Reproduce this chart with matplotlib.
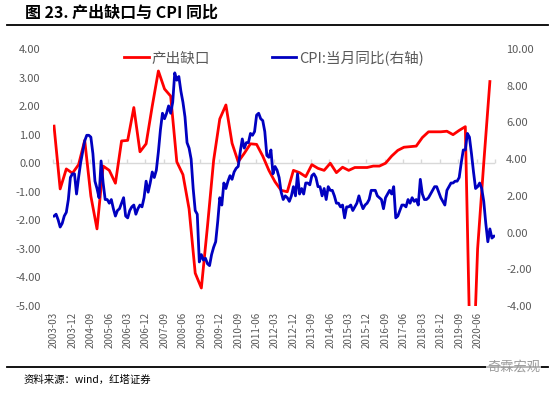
import matplotlib
matplotlib.use('Agg')
import matplotlib.pyplot as plt
from matplotlib.lines import Line2D

plt.rcParams['font.family'] = ['Noto Sans CJK SC', 'DejaVu Sans']

# 月份：2003-03 到 2021-02
start_year, start_month = 2003, 3
n_months = 216
months = []
for i in range(n_months):
    m = start_month - 1 + i
    months.append('%d-%02d' % (start_year + m // 12, m % 12 + 1))

# CPI:当月同比（右轴），月度
cpi = [0.9, 1.0, 0.7, 0.3, 0.5, 0.9, 1.1, 1.8, 3.0, 3.2,
       3.2, 2.1, 3.0, 3.8, 4.4, 5.0, 5.3, 5.3, 5.2, 4.3, 2.8, 2.4,
       1.9, 3.9, 2.7, 1.8, 1.8, 1.6, 1.8, 1.3, 0.9, 1.2, 1.3, 1.6,
       1.9, 0.9, 0.8, 1.2, 1.4, 1.5, 1.0, 1.3, 1.5, 1.4, 1.9, 2.8,
       2.2, 2.7, 3.3, 3.0, 3.4, 4.4, 5.6, 6.5, 6.2, 6.5, 6.9, 6.5,
       7.1, 8.7, 8.3, 8.5, 7.7, 7.1, 6.3, 4.9, 4.6, 4.0, 2.4, 1.2,
       1.0, -1.6, -1.2, -1.5, -1.4, -1.7, -1.8, -1.2, -0.8, -0.5, 0.6, 1.9,
       1.5, 2.7, 2.4, 2.8, 3.1, 2.9, 3.3, 3.5, 3.6, 4.4, 5.1, 4.6,
       4.9, 4.9, 5.4, 5.3, 5.5, 6.4, 6.5, 6.2, 6.1, 5.5, 4.2, 4.1,
       4.5, 3.2, 3.6, 3.4, 3.0, 2.2, 1.8, 2.0, 1.9, 1.7, 2.0, 2.5,
       2.0, 3.2, 2.1, 2.4, 2.1, 2.7, 2.7, 2.6, 3.1, 3.2, 3.0, 2.5,
       2.5, 2.0, 2.4, 1.8, 2.5, 2.3, 2.3, 2.0, 1.6, 1.6, 1.4, 1.5,
       0.8, 1.4, 1.4, 1.5, 1.2, 1.4, 1.6, 2.0, 1.6, 1.3, 1.5, 1.6,
       1.8, 2.3, 2.3, 2.3, 2.0, 1.9, 1.8, 1.3, 1.9, 2.1, 2.3, 2.1,
       2.5, 0.8, 0.9, 1.2, 1.5, 1.5, 1.4, 1.8, 1.6, 1.9, 1.7, 1.8,
       1.5, 2.9, 2.1, 1.8, 1.8, 1.9, 2.1, 2.3, 2.5, 2.5, 2.2, 1.9,
       1.7, 1.5, 2.3, 2.5, 2.7, 2.7, 2.8, 2.8, 3.0, 3.8, 4.5, 4.5,
       5.4, 5.2, 4.3, 3.3, 2.4, 2.5, 2.7, 2.4, 1.7, 0.5, -0.5, 0.2,
       -0.3, -0.2]

# 产出缺口（左轴），季度：2003Q1 到 2020Q4
gap = [1.30, -0.90, -0.20, -0.35, -0.05, 0.80, -1.15, -2.30,
       -0.10, -0.25, -0.70, 0.78, 0.80, 1.95, 0.40, 0.68,
       2.00, 3.23, 2.60, 2.35, 0.05, -0.40, -1.60, -3.85,
       -4.37, -2.20, 0.10, 1.55, 2.04, 0.70, 0.05, 0.35,
       0.68, 0.66, 0.25, -0.25, -0.65, -0.95, -1.00, -0.25,
       -0.33, -0.47, -0.05, -0.18, -0.25, 0.00, -0.33, -0.14,
       -0.25, -0.15, -0.15, -0.15, -0.10, -0.10, 0.00, 0.25,
       0.45, 0.56, 0.58, 0.60, 0.90, 1.10, 1.10, 1.10,
       1.12, 1.00, 1.15, 1.28, -9.00, -3.00, 0.00, 2.86]
gap_x = [3 * i for i in range(len(gap))]

red = '#ff0000'
blue = '#0000c0'
gray = '#595959'

fig = plt.figure(figsize=(5.54, 3.94), dpi=100)
ax = fig.add_axes([53 / 554, 1 - 306 / 394, 442 / 554, 257 / 394])
ax2 = ax.twinx()

ax.plot(gap_x, gap, color=red, lw=2.0, solid_joinstyle='round')
ax2.plot(range(n_months), cpi, color=blue, lw=2.0, solid_joinstyle='round')

ax.set_xlim(-0.5, n_months - 0.5)
ax.set_ylim(-5, 4)
ax2.set_ylim(-4, 10)
ax.set_yticks(range(-5, 5))
ax.set_yticklabels(['%.2f' % v for v in range(-5, 5)])
ax2.set_yticks(range(-4, 11, 2))
ax2.set_yticklabels(['%.2f' % v for v in range(-4, 11, 2)])

tick_pos = list(range(0, n_months, 9))
ax.set_xticks(tick_pos)
ax.set_xticklabels([months[i] for i in tick_pos], rotation=90)

for a in (ax, ax2):
    for s in a.spines.values():
        s.set_visible(False)
ax.tick_params(axis='x', length=0, pad=4, labelsize=7, labelcolor=gray)
ax.tick_params(axis='y', length=0, pad=9, labelsize=8, labelcolor=gray)
ax2.tick_params(axis='y', length=0, pad=8, labelsize=8, labelcolor=gray)

# 0 处的横轴线和刻度
ax.axhline(0, color='#d9d9d9', lw=1.0, zorder=0)
sec = ax.secondary_xaxis(5 / 9)
sec.set_xticks([p - 0.5 for p in tick_pos] + [n_months - 0.5])
sec.set_xticklabels([])
sec.tick_params(axis='x', direction='out', length=3, color='#d9d9d9', width=1)
sec.spines['bottom'].set_visible(False)
sec.spines['top'].set_visible(False)

handles = [Line2D([], [], color=red, lw=2.0),
           Line2D([], [], color=blue, lw=2.0)]
ax2.legend(handles, ['产出缺口', 'CPI:当月同比(右轴)'], loc='upper center',
           bbox_to_anchor=(0.5, 1.045), ncol=2, frameon=False, fontsize=10.5,
           labelcolor=gray, handlelength=1.7, handletextpad=0.2,
           columnspacing=4.2)

fig.text(25 / 554, 1 - 13 / 394, '图 23. 产出缺口与 CPI 同比', fontsize=11.5,
         fontweight='bold', va='center', ha='left')
fig.add_artist(Line2D([7 / 554, 548 / 554], [1 - 25 / 394, 1 - 25 / 394],
                      color='black', lw=1.3))
fig.add_artist(Line2D([7 / 554, 548 / 554], [1 - 367 / 394, 1 - 367 / 394],
                      color='black', lw=1.3))
fig.text(24 / 554, 1 - 380 / 394, '资料来源：wind，红塔证券', fontsize=7.5,
         va='center', ha='left')
fig.text(540 / 554, 1 - 367 / 394, '奇霖宏观', fontsize=9.5, color='#9a9a9a',
         va='center', ha='right',
         bbox=dict(facecolor='white', edgecolor='none', pad=1, alpha=0.7))

fig.savefig('out.png', dpi=100)
